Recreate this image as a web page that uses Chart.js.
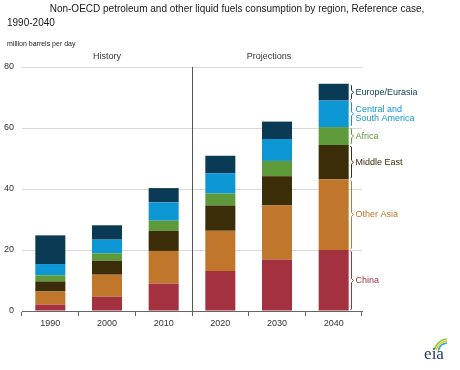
<!DOCTYPE html>
<html>
<head>
<meta charset="utf-8">
<script src="https://cdn.jsdelivr.net/npm/chart.js@4"></script>
<style>
  html, body { margin: 0; padding: 0; background: #fff; }
  #wrap { position: relative; width: 460px; height: 370px; }
</style>
</head>
<body>
<div id="wrap"><canvas id="fuelChart" width="460" height="370"></canvas></div>
<script>
// categories and values (million barrels per day)
const years = ["1990", "2000", "2010", "2020", "2030", "2040"];
const china = [2.1, 4.7, 9.0, 13.1, 16.9, 20.0];
const otherAsia = [4.3, 7.2, 10.7, 13.2, 17.7, 23.2];
const middleEast = [3.3, 4.6, 6.6, 8.3, 9.6, 11.2];
const africa = [2.0, 2.4, 3.3, 3.9, 5.0, 5.9];
const csAmerica = [3.7, 4.5, 6.0, 6.7, 7.2, 8.7];
const europeEurasia = [9.4, 4.7, 4.7, 5.7, 5.7, 5.5];
const yTicks = [0, 20, 40, 60, 80];

const regionNames = ["China", "Other Asia", "Middle East", "Africa", "Central and South America", "Europe/Eurasia"];
const regionLabels = [["China"], ["Other Asia"], ["Middle East"], ["Africa"], ["Central and", "South America"], ["Europe/Eurasia"]];
const regionColors = ["#A3313F", "#C0772C", "#3B2D08", "#5E9A3A", "#0E97D5", "#0B3A55"];
const regionValues = [china, otherAsia, middleEast, africa, csAmerica, europeEurasia];

const FONT = "'Liberation Sans', Arial, sans-serif";

// texts, divider, brackets and logo
const extras = {
    id: "extras",
    afterDraw(chart) {
        const ctx = chart.ctx;
        const area = chart.chartArea;
        const x = chart.scales.x;
        const y = chart.scales.y;
        ctx.save();

        // title
        ctx.fillStyle = "#1a1a1a";
        ctx.font = "10px " + FONT;
        ctx.textBaseline = "middle";
        ctx.textAlign = "center";
        ctx.fillText("Non-OECD petroleum and other liquid fuels consumption by region, Reference case,", 237, 9);
        ctx.textAlign = "left";
        ctx.fillText("1990-2040", 7, 23);

        ctx.font = "7px " + FONT;
        ctx.fillText("million barrels per day", 7, 44);

        // history / projections
        const mid = (x.getPixelForValue(2) + x.getPixelForValue(3)) / 2;
        ctx.font = "9px " + FONT;
        ctx.textAlign = "center";
        ctx.fillStyle = "#333";
        ctx.fillText("History", (area.left + mid) / 2, 57);
        ctx.fillText("Projections", (mid + area.right) / 2 - 8, 57);

        // divider
        ctx.strokeStyle = "#555";
        ctx.lineWidth = 1;
        ctx.beginPath();
        ctx.moveTo(Math.round(mid) + 0.5, area.top);
        ctx.lineTo(Math.round(mid) + 0.5, area.bottom);
        ctx.stroke();

        // brackets and region labels beside last bar
        const last = years.length - 1;
        const meta = chart.getDatasetMeta(0).data[last];
        const bx = Math.round(meta.x + meta.width / 2) + 2.5;
        let base = 0;
        ctx.font = "9px " + FONT;
        ctx.textAlign = "left";
        regionValues.forEach((vals, i) => {
            const yBot = y.getPixelForValue(base);
            base += vals[last];
            const yTop = y.getPixelForValue(base);
            const ym = (yTop + yBot) / 2;
            ctx.strokeStyle = regionColors[i];
            ctx.beginPath();
            ctx.moveTo(bx - 1, yTop + 1);
            ctx.lineTo(bx, yTop + 2);
            ctx.lineTo(bx, ym - 2);
            ctx.lineTo(bx + 2, ym);
            ctx.lineTo(bx, ym + 2);
            ctx.lineTo(bx, yBot - 2);
            ctx.lineTo(bx - 1, yBot - 1);
            ctx.stroke();
            ctx.fillStyle = regionColors[i];
            const lines = regionLabels[i];
            lines.forEach((t, k) => {
                ctx.fillText(t, bx + 4, ym + (k - (lines.length - 1) / 2) * 9);
            });
        });

        // eia logo
        ctx.lineWidth = 1.6;
        [["#8DC63F", 14], ["#F2C500", 12], ["#2AA7DF", 10]].forEach(([c, r]) => {
            ctx.strokeStyle = c;
            ctx.beginPath();
            ctx.arc(448, 353, r, Math.PI * 1.08, Math.PI * 1.47);
            ctx.stroke();
        });
        ctx.fillStyle = "#1F3B63";
        ctx.font = "17px 'Liberation Serif', 'DejaVu Serif', serif";
        ctx.textAlign = "center";
        ctx.fillText("eia", 434, 355);

        ctx.restore();
    }
};

new Chart(document.getElementById("fuelChart"), {
    type: "bar",
    data: {
        labels: years,
        datasets: regionValues.map((vals, i) => ({
            label: regionNames[i],
            data: vals,
            backgroundColor: regionColors[i],
            borderWidth: 0,
            barPercentage: 0.53,
            categoryPercentage: 1
        }))
    },
    options: {
        responsive: false,
        animation: false,
        devicePixelRatio: 1,
        layout: { padding: { left: 0, top: 67, right: 98, bottom: 38 } },
        plugins: {
            legend: { display: false },
            tooltip: { enabled: false },
            title: { display: false }
        },
        scales: {
            x: {
                stacked: true,
                afterFit(axis) { axis.height = 21; },
                grid: {
                    offset: true,
                    drawOnChartArea: false,
                    tickLength: 5,
                    color: "#666"
                },
                border: { display: true, color: "#666" },
                ticks: { color: "#333", font: { size: 9, family: FONT }, padding: 2 }
            },
            y: {
                stacked: true,
                min: 0,
                max: 80,
                afterFit(axis) { axis.width = 22; },
                afterBuildTicks(axis) { axis.ticks = yTicks.map(v => ({ value: v })); },
                grid: { color: "#d9d9d9", drawTicks: false },
                border: { display: false },
                ticks: { color: "#333", font: { size: 9, family: FONT }, padding: 8 }
            }
        }
    },
    plugins: [extras]
});
</script>
</body>
</html>
